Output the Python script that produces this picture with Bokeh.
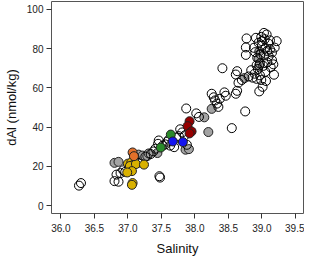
from bokeh.plotting import figure
from bokeh.models import FixedTicker, Range1d
from bokeh.embed import file_html
from bokeh.resources import INLINE

# Open (unfilled) samples
open_sal = [36.27, 36.30, 36.80, 36.86, 36.83, 36.89, 36.93, 36.96, 37.10, 37.15,
            37.26, 37.34, 37.38, 37.41, 37.45, 37.46, 37.47, 37.48, 37.52, 37.56,
            37.59, 37.61, 37.63, 37.69, 37.72, 37.76, 37.78, 37.81, 37.85, 37.88,
            37.87, 38.02, 38.06, 38.25, 38.28, 38.30, 38.33, 38.35, 38.37, 38.44,
            38.46, 38.41, 38.55, 38.61, 38.63, 38.63, 38.61, 38.65, 38.75, 38.70,
            38.77, 38.76, 38.76, 38.84, 38.80, 38.86, 38.89, 38.92, 38.97, 38.99,
            38.96, 39.01, 39.18, 38.91, 38.95, 38.99, 39.03, 39.07, 39.12, 39.22,
            39.19, 39.15, 39.10, 39.05, 39.08, 39.02, 38.97, 38.93, 38.90, 39.00,
            39.13, 39.05, 38.94, 39.10, 39.03, 38.88, 39.15, 39.17, 38.92, 39.06,
            39.00, 39.08, 38.98, 39.12, 39.04]
open_dal = [10.2, 11.5, 12.5, 12.2, 15.8, 16.6, 18.0, 17.2, 24.5, 21.8,
            25.0, 26.3, 27.6, 29.0, 31.5, 33.2, 15.0, 14.3, 30.6, 31.2,
            32.6, 33.6, 30.6, 29.8, 34.6, 35.4, 38.9, 37.3, 35.8, 31.0,
            49.5, 47.0, 45.2, 57.0, 55.2, 53.6, 52.0, 50.3, 54.4, 57.7,
            56.0, 70.0, 39.5, 66.8, 68.5, 58.5, 57.0, 62.6, 48.0, 64.0,
            85.2, 80.6, 76.8, 69.0, 65.8, 65.2, 67.2, 64.6, 66.4, 64.0,
            58.2, 60.5, 66.7, 85.5, 83.0, 86.0, 88.0, 87.2, 84.2, 83.8,
            80.5, 78.0, 76.2, 80.0, 73.0, 71.2, 72.4, 75.3, 78.2, 81.5,
            70.5, 68.2, 69.6, 82.5, 76.5, 80.4, 74.2, 72.0, 71.5, 63.5,
            83.8, 78.8, 77.0, 79.6, 84.8]

gray_sal = [36.80, 36.86, 37.16, 37.22, 37.29, 37.31, 37.44, 37.86, 37.91, 38.14,
            38.20, 38.25, 38.74, 38.96, 38.95, 38.96]
gray_dal = [21.8, 22.3, 26.0, 25.5, 25.3, 26.6, 26.8, 28.5, 28.8, 45.0,
            37.5, 49.3, 65.0, 78.5, 74.8, 71.5]

yellow_sal = [37.00, 37.05, 37.08, 37.03, 37.12, 37.24, 37.06, 36.99, 37.07, 37.06]
yellow_dal = [21.4, 22.0, 20.8, 20.2, 21.2, 20.9, 17.6, 16.9, 11.5, 10.6]

orange_sal = [37.07, 37.09]
orange_dal = [27.1, 25.2]

green_sal = [37.64, 37.49]
green_dal = [36.2, 29.6]

blue_sal = [37.67, 37.82]
blue_dal = [32.7, 32.4]

red_sal = [37.92, 37.89, 37.95, 37.92]
red_dal = [43.0, 40.5, 37.8, 36.8]

x_ticks = [36.0, 36.5, 37.0, 37.5, 38.0, 38.5, 39.0, 39.5]
y_ticks = [0, 20, 40, 60, 80, 100]

FONT = "Liberation Sans"

p = figure(width=304, height=258, output_backend="svg", toolbar_location=None,
           x_range=Range1d(35.86, 39.62), y_range=Range1d(-4, 104),
           min_border_left=44, min_border_right=1, min_border_top=1, min_border_bottom=30)

p.xgrid.visible = False
p.ygrid.visible = False
p.outline_line_color = "#555555"
p.outline_line_width = 1
p.outline_line_alpha = 1.0
p.background_fill_color = "white"
p.border_fill_color = "white"

for ax in (p.xaxis[0], p.yaxis[0]):
    ax.axis_line_color = None
    ax.major_tick_out = 5
    ax.major_tick_in = 0
    ax.minor_tick_line_color = None
    ax.major_tick_line_color = "#333333"
    ax.major_label_text_font = FONT
    ax.major_label_text_font_size = "10px"
    ax.major_label_text_color = "#222222"
    ax.axis_label_text_font = FONT
    ax.axis_label_text_font_size = "13px"
    ax.axis_label_text_font_style = "normal"
    ax.axis_label_text_color = "#111111"

p.xaxis.ticker = FixedTicker(ticks=x_ticks)
p.yaxis.ticker = FixedTicker(ticks=y_ticks)
p.xaxis.major_label_overrides = {t: f"{t:.1f}" for t in x_ticks}
p.yaxis.major_label_overrides = {t: f"{t:d}" for t in y_ticks}
p.xaxis.axis_label = "Salinity"
p.yaxis.axis_label = "dAl (nmol/kg)"
p.xaxis.major_label_standoff = 5
p.yaxis.major_label_standoff = 3
p.xaxis.axis_label_standoff = 6
p.yaxis.axis_label_standoff = 5

S = 9
p.scatter(gray_sal, gray_dal, size=S, marker="circle", fill_color="#A3A3A3",
          line_color="#222222", line_width=1)
p.scatter(open_sal, open_dal, size=S, marker="circle", fill_color=None,
          line_color="black", line_width=1)
p.scatter(yellow_sal, yellow_dal, size=S, marker="circle", fill_color="#D9B100",
          line_color="#222222", line_width=1)
p.scatter(orange_sal, orange_dal, size=S, marker="circle", fill_color="#E2702A",
          line_color="#222222", line_width=1)
p.scatter(green_sal, green_dal, size=S, marker="circle", fill_color="#2A8A2A",
          line_color="#222222", line_width=1)
p.scatter(blue_sal, blue_dal, size=S, marker="circle", fill_color="#1414F0",
          line_color="#222222", line_width=1)
p.scatter(red_sal, red_dal, size=S, marker="circle", fill_color="#960000",
          line_color="#222222", line_width=1)

open("out.html", "w").write(file_html(p, INLINE))
